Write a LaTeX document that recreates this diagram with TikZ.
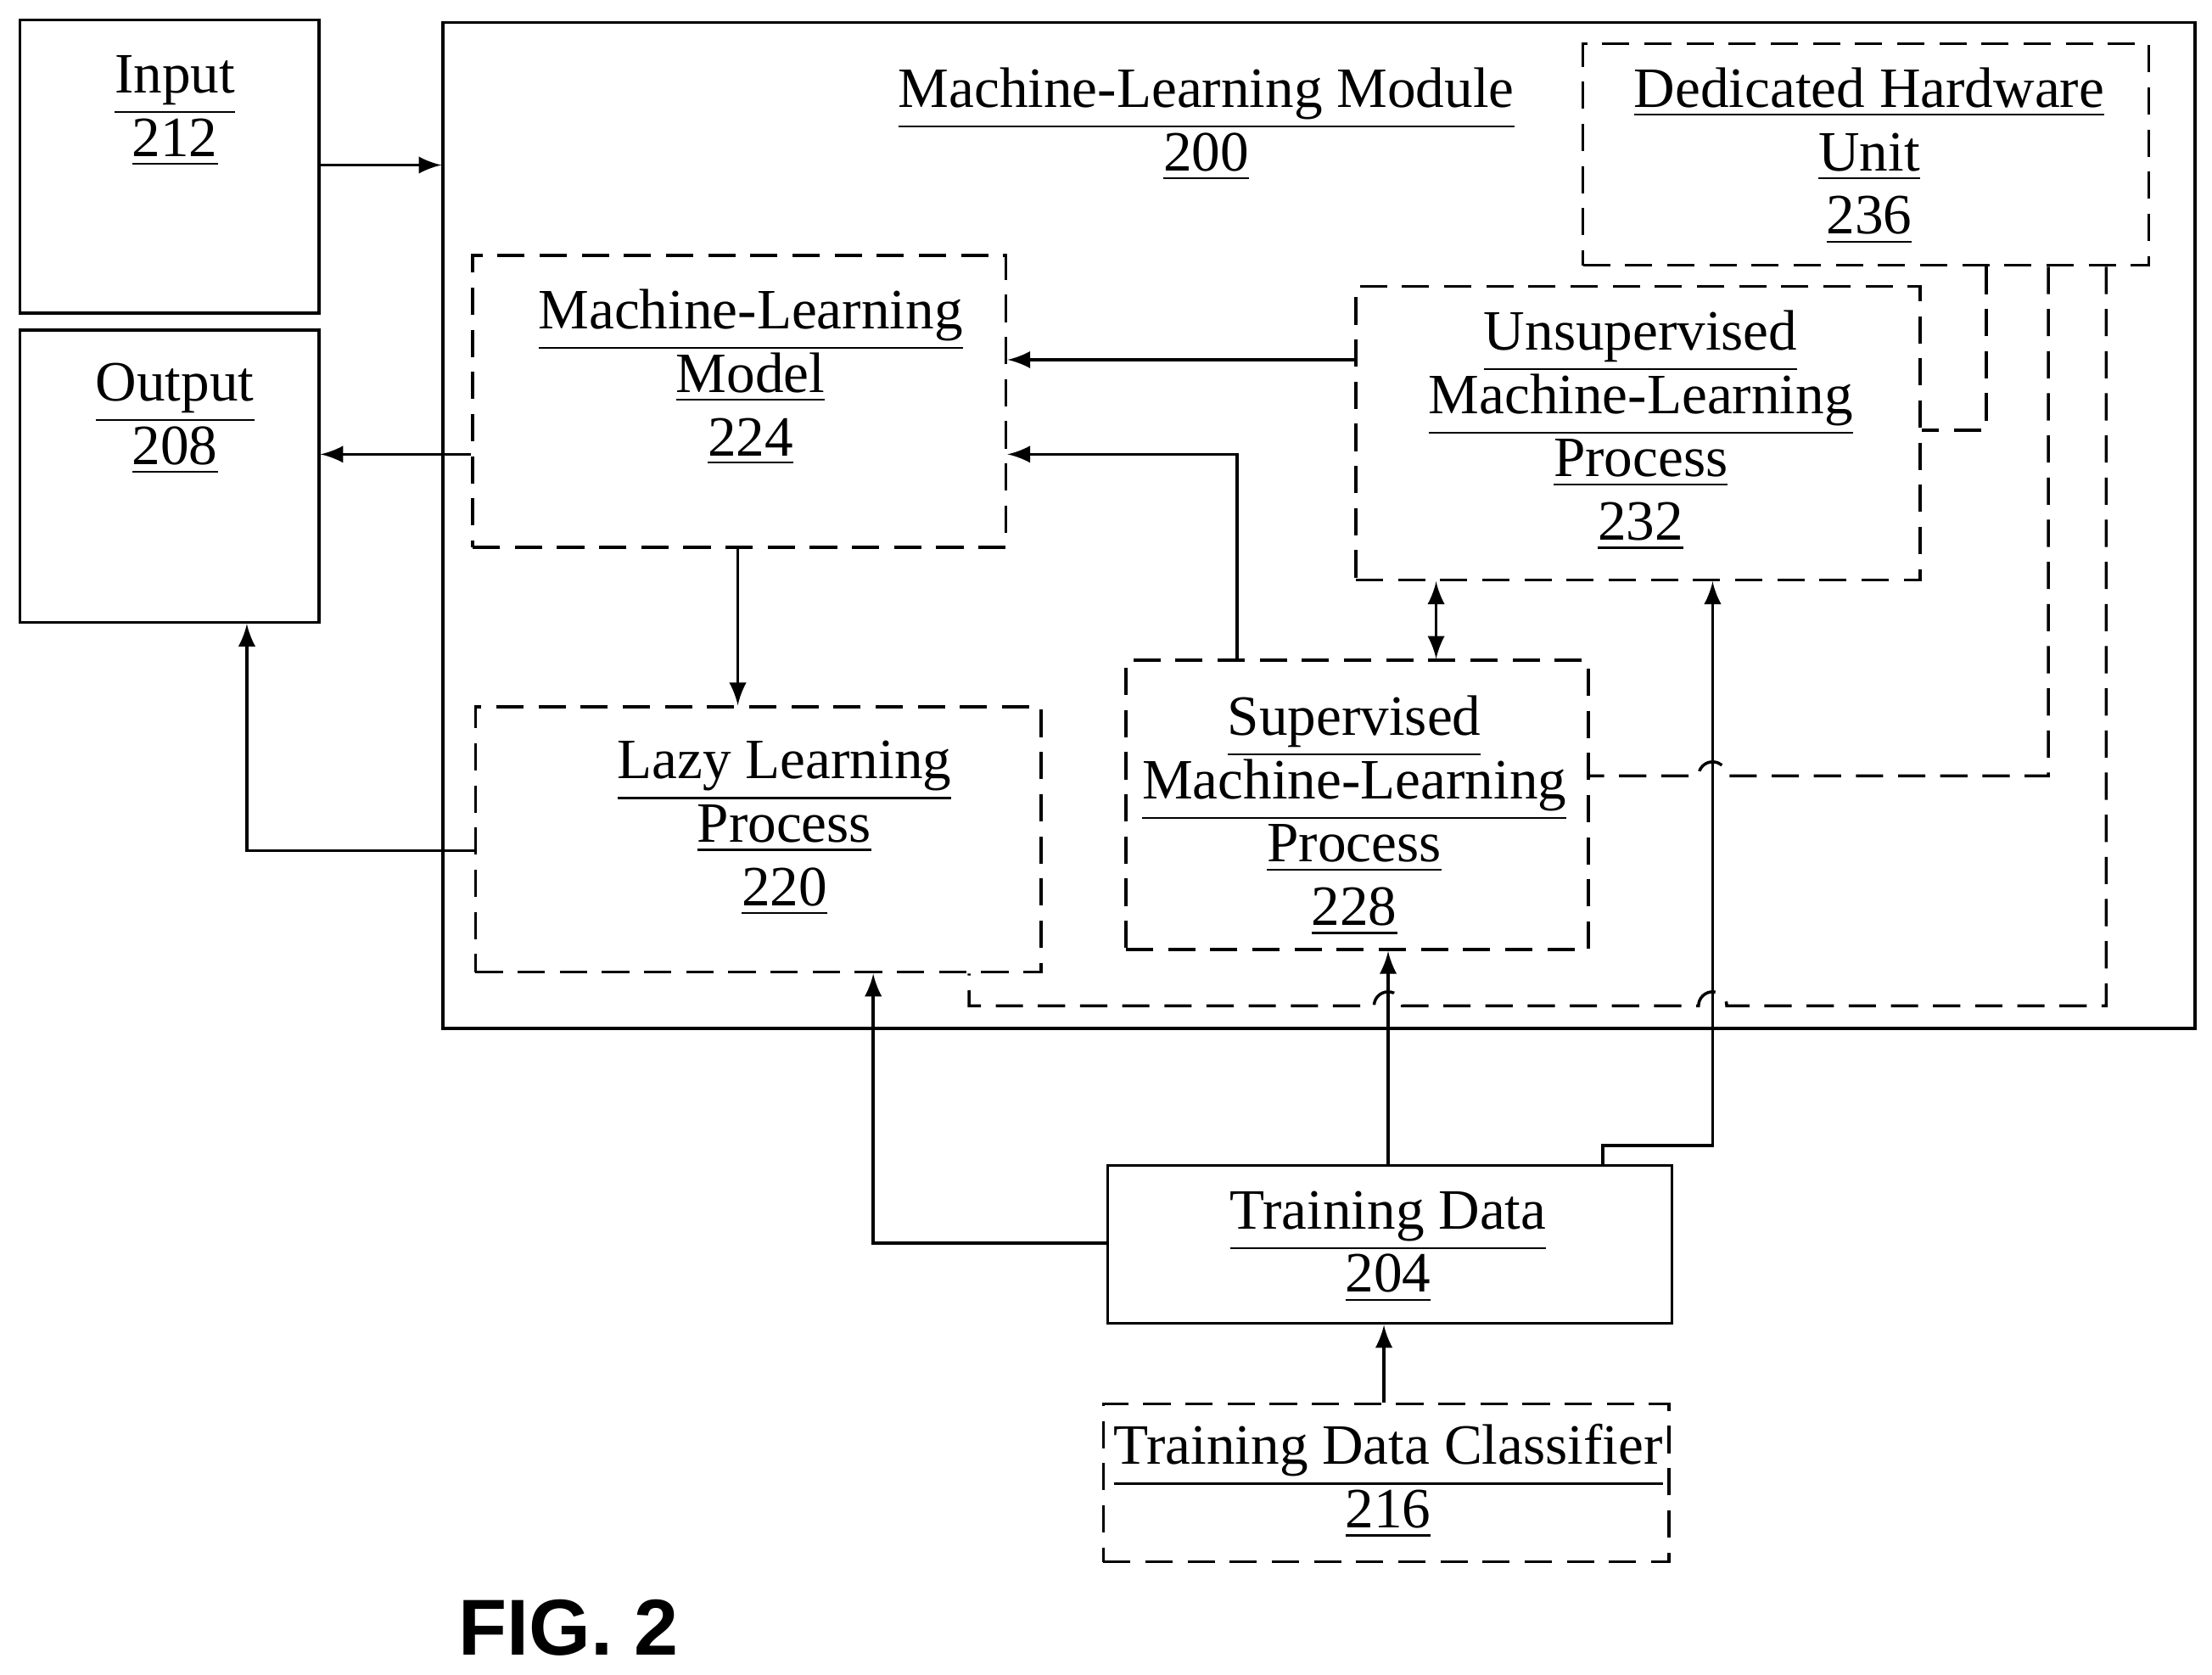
\documentclass[tikz,border=0pt]{standalone}
\usepackage{fontspec}
\setmainfont{Liberation Serif}
\newfontfamily\figfont{Liberation Sans}
\usetikzlibrary{positioning}
\tikzset{
  box/.style={draw, line width=0.6pt, anchor=north west, inner sep=0pt},
  dbox/.style={box, dash pattern=on 5.5pt off 3pt},
  lbl/.style={align=center, anchor=base, inner sep=0pt,
    font=\fontsize{11.5}{12.8}\selectfont},
  link/.style={line width=0.6pt, -latex},
  dlink/.style={line width=0.6pt, dash pattern=on 5.5pt off 3pt},
}
\begin{document}
\begin{tikzpicture}
  \useasboundingbox (0,0) rectangle (15.68,-11.87);
  % boxes
  \node[box, minimum width=2.12cm, minimum height=2.08cm] (input) at (0.13,-0.13) {};
  \node[box, minimum width=2.12cm, minimum height=2.07cm] (output) at (0.13,-2.33) {};
  \node[box, minimum width=12.42cm, minimum height=7.13cm] (module) at (3.13,-0.15) {};
  \node[dbox, minimum width=4.01cm, minimum height=1.57cm] (hw) at (11.21,-0.30) {};
  \node[dbox, minimum width=3.78cm, minimum height=2.07cm] (model) at (3.34,-1.80) {};
  \node[dbox, minimum width=4.00cm, minimum height=2.08cm] (unsup) at (9.60,-2.02) {};
  \node[dbox, minimum width=4.01cm, minimum height=1.88cm] (lazy) at (3.36,-5.00) {};
  \node[dbox, minimum width=3.28cm, minimum height=2.05cm] (sup) at (7.97,-4.67) {};
  \node[box, minimum width=4.00cm, minimum height=1.12cm] (train) at (7.84,-8.25) {};
  \node[dbox, minimum width=4.01cm, minimum height=1.12cm] (classif) at (7.81,-9.94) {};
  % labels (base = last line)
  \node[lbl] at (1.24,-1.11) {\underline{Input}\\\underline{212}};
  \node[lbl] at (1.24,-3.29) {\underline{Output}\\\underline{208}};
  \node[lbl] at (8.55,-1.21) {\underline{Machine-Learning Module}\\\underline{200}};
  \node[lbl] at (13.25,-1.66) {\underline{Dedicated Hardware}\\\underline{Unit}\\\underline{236}};
  \node[lbl] at (5.32,-3.23) {\underline{Machine-Learning}\\\underline{Model}\\\underline{224}};
  \node[lbl] at (11.63,-3.83) {\underline{Unsupervised}\\\underline{Machine-Learning}\\\underline{Process}\\\underline{232}};
  \node[lbl] at (5.56,-6.42) {\underline{Lazy Learning}\\\underline{Process}\\\underline{220}};
  \node[lbl] at (9.60,-6.56) {\underline{Supervised}\\\underline{Machine-Learning}\\\underline{Process}\\\underline{228}};
  \node[lbl] at (9.84,-9.16) {\underline{Training Data}\\\underline{204}};
  \node[lbl] at (9.84,-10.83) {\underline{Training Data Classifier}\\\underline{216}};
  \node[anchor=base, inner sep=0pt, font=\figfont\fontsize{16}{16}\selectfont\bfseries] (fig) at (4.03,-11.73) {FIG. 2};
  % solid connectors
  \draw[link] (input.east |- 0,-1.17) -- (module.west |- 0,-1.17);
  \draw[link] (model.west |- 0,-3.22) -- (output.east |- 0,-3.22);
  \draw[link] (unsup.west |- 0,-2.55) -- (model.east |- 0,-2.55);
  \draw[link] (sup.north -| 8.77,0) -- (8.77,-3.22) -- (model.east |- 0,-3.22);
  \draw[link] (model.south -| 5.23,0) -- (lazy.north -| 5.23,0);
  \draw[link] (lazy.west |- 0,-6.03) -- (1.75,-6.03) -- (output.south -| 1.75,0);
  \draw[link, latex-latex] (unsup.south -| 10.18,0) -- (sup.north -| 10.18,0);
  \draw[link] (train.west |- 0,-8.81) -- (6.19,-8.81) -- (lazy.south -| 6.19,0);
  \draw[link] (train.north -| 9.84,0) -- (sup.south -| 9.84,0);
  \draw[link] (train.north -| 11.36,0) -- (11.36,-8.12) -- (12.14,-8.12) -- (unsup.south -| 12.14,0);
  \draw[link] (classif.north -| 9.81,0) -- (train.south -| 9.81,0);
  % dashed connectors from hardware unit
  \draw[dlink] (hw.south -| 14.08,0) -- (14.08,-3.05) -- (unsup.east |- 0,-3.05);
  \draw[dlink] (hw.south -| 14.52,0) -- (14.52,-5.50) -- (12.24,-5.50)
    arc[start angle=0, end angle=180, radius=0.1] -- (sup.east |- 0,-5.50);
  \draw[dlink] (hw.south -| 14.93,0) -- (14.93,-7.13) -- (12.24,-7.13)
    arc[start angle=0, end angle=180, radius=0.1] -- (9.94,-7.13)
    arc[start angle=0, end angle=180, radius=0.1] -- (6.87,-7.13) -- (lazy.south -| 6.87,0);
\end{tikzpicture}
\end{document}
